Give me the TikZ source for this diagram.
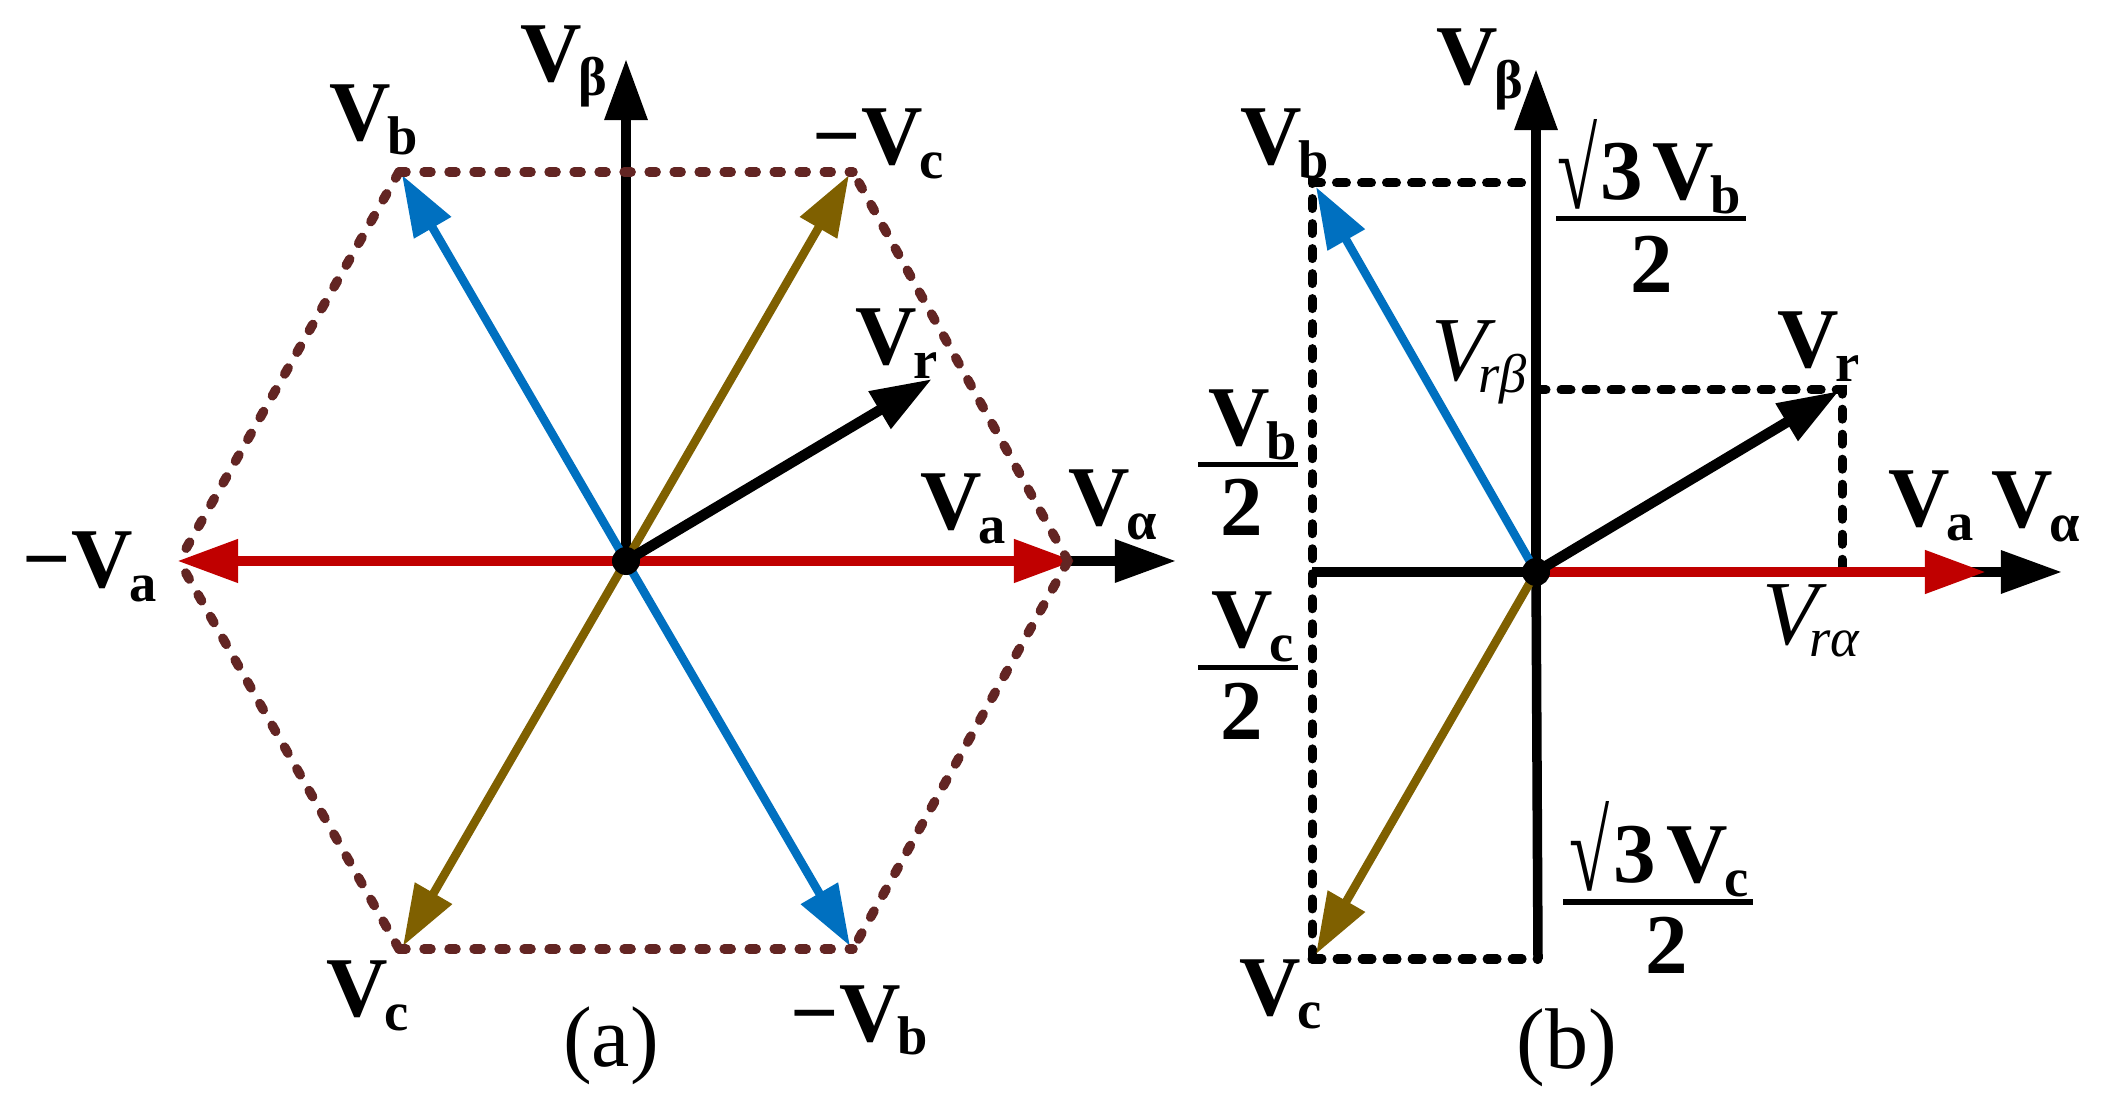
\documentclass[tikz,border=0pt]{standalone}
\usepackage{fontspec}
\usepackage{graphicx}
\setmainfont{Liberation Serif}
\usetikzlibrary{arrows.meta}
\newcommand{\vsub}[1]{\textbf{V}\kern-1pt\raisebox{-3.8pt}{\fontsize{15.5}{16}\selectfont\bfseries #1}}
\newcommand{\visub}[1]{{\fontsize{26}{28}\selectfont\textit{V}}\kern-5pt\raisebox{-3.2pt}{\fontsize{15.5}{16}\selectfont\itshape #1}}
\newcommand{\rootsign}{\scalebox{0.65}[1]{√}}
\tikzset{
	lab/.style={anchor=base west,inner sep=0pt,font=\fontsize{24.2}{26}\selectfont},
	two/.style={anchor=base,inner sep=0pt,font=\fontsize{24.2}{26}\selectfont\bfseries},
	panelcap/.style={anchor=base,inner sep=0pt,font=\fontsize{24.5}{28}\selectfont},
	vec/.style={line width=0.095cm,-{Triangle[length=0.61cm,width=0.41cm]}},
	thinvec/.style={vec,line width=0.085cm},
	thickvec/.style={vec,line width=0.105cm},
	hexline/.style={line width=0.095cm,color=hexbrown,line cap=round,dash pattern=on 0.07cm off 0.18cm},
	guide/.style={line width=0.09cm,line cap=round,dash pattern=on 0.1cm off 0.15cm},
	bar/.style={line width=0.05cm},
	hub/.style={circle,fill=black,inner sep=0pt,minimum size=0.28cm},
}
\definecolor{phasea}{HTML}{C00000}
\definecolor{phaseb}{HTML}{0070C0}
\definecolor{phasec}{HTML}{7F6000}
\definecolor{hexbrown}{HTML}{632523}
\begin{document}
\begin{tikzpicture}[x=0.01cm,y=-0.01cm]
	\useasboundingbox (0,0) rectangle (2106,1101);
	% panel (a)
	\coordinate (o1) at (626,561);
	\coordinate (betaA) at (626,59);
	\coordinate (alphaA) at (1176,561);
	\coordinate (tipVr) at (932,379);
	\coordinate (h1) at (1068,561);
	\coordinate (h2) at (853,172);
	\coordinate (h3) at (399,172);
	\coordinate (h4) at (179,561);
	\coordinate (h5) at (399,949);
	\coordinate (h6) at (853,949);
	\draw[vec] (o1) -- (betaA);
	\draw[vec] (o1) -- (alphaA);
	\draw[thinvec,phaseb] (o1) -- (402,175) coordinate (tipVb);
	\draw[thinvec,phaseb] (o1) -- (850,946) coordinate (tipmVb);
	\draw[thinvec,phasec] (o1) -- (849,175) coordinate (tipmVc);
	\draw[thinvec,phasec] (o1) -- (403,946) coordinate (tipVc);
	\draw[thickvec,phasea] (o1) -- (1075,561) coordinate (tipVa);
	\draw[thickvec,phasea] (o1) -- (177,561) coordinate (tipmVa);
	\draw[thickvec] (o1) -- (tipVr);
	\draw[hexline] (h1) -- (h2);
	\draw[hexline] (h3) -- (h2);
	\draw[hexline] (h3) -- (h4);
	\draw[hexline] (h5) -- (h4);
	\draw[hexline] (h5) -- (h6);
	\draw[hexline] (h1) -- (h6);
	\node[hub] (hubA) at (o1) {};
	\node[lab] (lbetaA) at (520,82) {\vsub{β}};
	\node[lab] (lVbA) at (329,141) {\vsub{b}};
	\node[lab] (lmVcA) at (812,165) {\textbf{−}\vsub{c}};
	\node[lab] (lVrA) at (855,365) {\vsub{r}};
	\node[lab] (lVaA) at (920,530) {\vsub{a}};
	\node[lab] (lalphaA) at (1068,526) {\vsub{α}};
	\node[lab] (lmVaA) at (22,588) {\textbf{−}\vsub{a}};
	\node[lab] (lVcA) at (326,1017) {\vsub{c}};
	\node[lab] (lmVbA) at (790,1041) {\textbf{−}\vsub{b}};
	\node[panelcap] (capA) at (611,1066) {(a)};
	% panel (b)
	\coordinate (o2) at (1536,572);
	\coordinate (betaB) at (1536,69);
	\coordinate (alphaB) at (2062,572);
	\coordinate (leftB) at (1312,572);
	\coordinate (cornerb) at (1312,183);
	\coordinate (cornerc) at (1312,959);
	\coordinate (footB) at (1538,959);
	\coordinate (topB) at (1524,183);
	\coordinate (cornerr) at (1842,390);
	\coordinate (axisr) at (1536,390);
	\coordinate (baser) at (1842,572);
	\draw[vec] (o2) -- (betaB);
	\draw[line width=0.095cm] (o2) -- (footB);
	\draw[line width=0.095cm] (o2) -- (leftB);
	\draw[vec] (o2) -- (alphaB);
	\draw[guide] (cornerc) -- (cornerb) -- (topB);
	\draw[guide] (cornerc) -- (footB);
	\draw[guide] (axisr) -- (cornerr) -- (baser);
	\draw[thinvec,phaseb] (o2) -- (1316,187) coordinate (tipVbB);
	\draw[thinvec,phasec] (o2) -- (1316,954) coordinate (tipVcB);
	\draw[thickvec,phasea] (o2) -- (1986,572) coordinate (tipVaB);
	\draw[thickvec] (o2) -- (1839,391) coordinate (tipVrB);
	\node[hub] (hubB) at (o2) {};
	\node[lab] (lbetaB) at (1436,85) {\vsub{β}};
	\node[lab] (lVbB) at (1240,165) {\vsub{b}};
	\node[lab] (lVrB) at (1777,368) {\vsub{r}};
	\node[lab] (lVaB) at (1888,527) {\vsub{a}};
	\node[lab] (lalphaB) at (1991,528) {\vsub{α}};
	\node[lab] (lVcB) at (1239,1015) {\vsub{c}};
	\node[lab] (lVrbeta) at (1431,381) {\visub{rβ}};
	\node[lab] (lVralpha) at (1762,645) {\visub{rα}};
	% fractions
	\node[lab] (numb) at (1208,446) {\vsub{b}};
	\coordinate (barb1) at (1198,465);
	\coordinate (barb2) at (1298,465);
	\draw[bar] (barb1) -- (barb2);
	\node[two] (denb) at (1242,536) {2};
	\node[lab] (numc) at (1211,648) {\vsub{c}};
	\coordinate (barc1) at (1198,668);
	\coordinate (barc2) at (1298,668);
	\draw[bar] (barc1) -- (barc2);
	\node[two] (denc) at (1242,740) {2};
	\node[lab,font=\fontsize{32}{34}\selectfont] (rootb) at (1557,209) {\rootsign};
	\node[lab] (numrb) at (1600,200) {\textbf{3}\kern2.5pt\vsub{b}};
	\coordinate (barrb1) at (1556,219);
	\coordinate (barrb2) at (1746,219);
	\draw[bar] (barrb1) -- (barrb2);
	\node[two] (denrb) at (1652,293) {2};
	\node[lab,font=\fontsize{32}{34}\selectfont] (rootc) at (1569,891) {\rootsign};
	\node[lab] (numrc) at (1613,883) {\textbf{3}\kern3pt\vsub{c}};
	\coordinate (barrc1) at (1563,902);
	\coordinate (barrc2) at (1753,902);
	\draw[bar] (barrc1) -- (barrc2);
	\node[two] (denrc) at (1667,974) {2};
	\node[panelcap] (capB) at (1567,1068) {(b)};
\end{tikzpicture}
\end{document}
